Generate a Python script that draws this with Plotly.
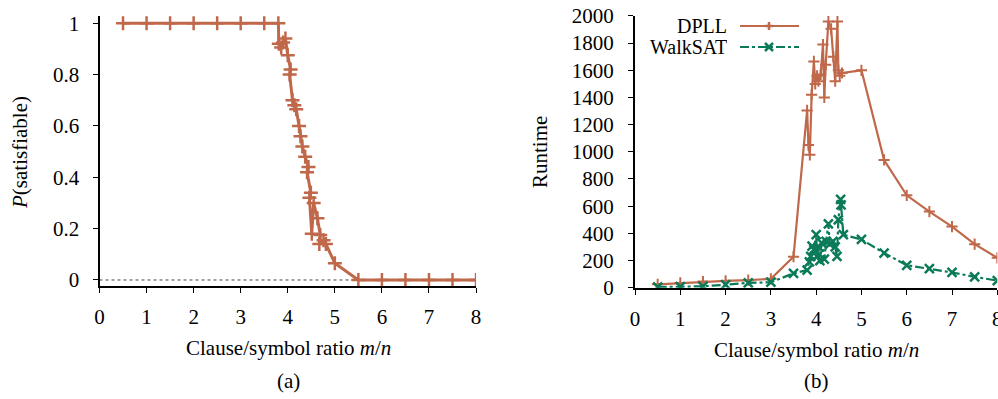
import plotly.graph_objects as go

# ---------------- data ----------------
ratio_a = [0.5, 1.0, 1.5, 2.0, 2.5, 3.0, 3.5, 3.8, 3.81, 3.86, 3.9, 3.95, 4.0, 4.06, 4.04,
           4.1, 4.14, 4.18, 4.24, 4.27, 4.31, 4.37, 4.44, 4.41, 4.49, 4.46, 4.51, 4.55,
           4.63, 4.69, 4.67, 4.76, 4.81, 5.0, 5.5, 6.0, 6.5, 7.0, 7.5, 8.0]
p_sat = [1.0, 1.0, 1.0, 1.0, 1.0, 1.0, 1.0, 1.0, 0.92, 0.905, 0.925, 0.94, 0.875, 0.82, 0.80,
         0.70, 0.68, 0.665, 0.60, 0.56, 0.52, 0.48, 0.44, 0.42, 0.34, 0.32, 0.18, 0.30,
         0.24, 0.175, 0.14, 0.155, 0.14, 0.065, 0.0, 0.0, 0.0, 0.0, 0.0, 0.0]

ratio_dpll = [0.5, 1.0, 1.5, 2.0, 2.5, 3.0, 3.5, 3.8, 3.83, 3.86, 3.9, 3.95, 3.98, 4.02, 4.05,
              4.1, 4.15, 4.18, 4.21, 4.27, 4.33, 4.38, 4.42, 4.47, 4.49, 4.52, 4.57,
              5.0, 5.5, 6.0, 6.5, 7.0, 7.5, 8.0]
runtime_dpll = [25, 35, 45, 50, 55, 65, 228, 1305, 1050, 978, 1420, 1665, 1500, 1560, 1520,
                1570, 1790, 1400, 1640, 1960, 1905, 1700, 1520, 1960, 1600, 1560, 1580,
                1600, 940, 680, 560, 450, 320, 220]

ratio_walksat = [0.5, 1.0, 1.5, 2.0, 2.5, 3.0, 3.5, 3.8, 3.85, 3.88, 3.91, 3.95, 4.0, 4.02,
                 4.05, 4.08, 4.12, 4.18, 4.22, 4.27, 4.3, 4.37, 4.42, 4.46, 4.49, 4.54,
                 4.55, 4.6, 5.0, 5.5, 6.0, 6.5, 7.0, 7.5, 8.0]
runtime_walksat = [5, 8, 10, 22, 35, 40, 105, 130, 190, 230, 305, 280, 390, 230,
                   300, 200, 330, 210, 340, 470, 320, 340, 300, 230, 500, 650,
                   610, 390, 355, 255, 165, 140, 112, 80, 52]

x_ticks = [0, 1, 2, 3, 4, 5, 6, 7, 8]
y_ticks_a = [0, 0.2, 0.4, 0.6, 0.8, 1]
y_tick_text_a = ["0", "0.2", "0.4", "0.6", "0.8", "1"]
y_ticks_b = [0, 200, 400, 600, 800, 1000, 1200, 1400, 1600, 1800, 2000]

# ---------------- style ----------------
DPLL_COLOR = "#c0684a"
WALK_COLOR = "#0a7a58"
FONT = "Liberation Serif"
FS = 21
W, H = 998, 399

fig = go.Figure()

fig.add_trace(go.Scatter(
    x=ratio_a, y=p_sat, mode="lines+markers", xaxis="x", yaxis="y", showlegend=False,
    line=dict(color=DPLL_COLOR, width=3),
    marker=dict(symbol="cross-thin", size=10, color=DPLL_COLOR,
                line=dict(color=DPLL_COLOR, width=2.5))))

fig.add_trace(go.Scatter(
    x=ratio_dpll, y=runtime_dpll, mode="lines+markers", xaxis="x2", yaxis="y2",
    name="DPLL", showlegend=False,
    line=dict(color=DPLL_COLOR, width=2.2),
    marker=dict(symbol="cross-thin", size=8, color=DPLL_COLOR,
                line=dict(color=DPLL_COLOR, width=2))))

fig.add_trace(go.Scatter(
    x=ratio_walksat, y=runtime_walksat, mode="lines+markers", xaxis="x2", yaxis="y2",
    name="WalkSAT", showlegend=False,
    line=dict(color=WALK_COLOR, width=2.2, dash="dashdot"),
    marker=dict(symbol="x-thin", size=9, color=WALK_COLOR,
                line=dict(color=WALK_COLOR, width=2.5))))

axis_common = dict(
    showline=True, linewidth=2, linecolor="black", showgrid=False, zeroline=False,
    ticks="outside", ticklen=5, tickwidth=1, tickcolor="black", automargin=False,
    ticklabeloverflow="allow",
    tickfont=dict(family=FONT, size=FS, color="black"),
)

fig.update_layout(
    template="none",
    width=W, height=H,
    margin=dict(l=0, r=0, t=0, b=0, pad=0),
    paper_bgcolor="white", plot_bgcolor="white",
    font=dict(family=FONT, size=FS, color="black"),
    xaxis=dict(domain=[0.0997, 0.477], range=[0, 8], tickvals=x_ticks, anchor="y",
               ticklabelstandoff=6, **axis_common),
    yaxis=dict(domain=[0.2832, 0.9599], range=[-0.0234, 1.028], tickvals=y_ticks_a,
               ticktext=y_tick_text_a, anchor="x", ticklabelstandoff=9, **axis_common),
    xaxis2=dict(domain=[0.6363, 0.9993], range=[0, 8], tickvals=x_ticks, anchor="y2",
                ticklabelstandoff=6, **axis_common),
    yaxis2=dict(domain=[0.279, 0.96], range=[0, 2000], tickvals=y_ticks_b, anchor="x2",
                ticklabelstandoff=10, **axis_common),
)

# dotted zero reference in panel (a)
fig.add_shape(type="line", xref="x", yref="y", x0=0, x1=8, y0=0, y1=0,
              line=dict(color="#444", width=1, dash="dot"), layer="below")

def px(x):
    return x / W

def py(y):
    return 1 - y / H

ann = [
    dict(text="<i>P</i>(satisfiable)", x=px(20), y=py(153), textangle=-90),
    dict(text="Runtime", x=px(540), y=py(152), textangle=-90),
    dict(text="Clause/symbol ratio <i>m</i>/<i>n</i>", x=px(288), y=py(348)),
    dict(text="Clause/symbol ratio <i>m</i>/<i>n</i>", x=px(816), y=py(350)),
    dict(text="(a)", x=px(288), y=py(381)),
    dict(text="(b)", x=px(816), y=py(381)),
]
for a in ann:
    fig.add_annotation(xref="paper", yref="paper", showarrow=False,
                       xanchor="center", yanchor="middle",
                       font=dict(family=FONT, size=FS, color="black"), **a)

# manual legend (text on the left of the key, as in the original)
legend_rows = [("DPLL", DPLL_COLOR, "solid", "cross", 26),
               ("WalkSAT", WALK_COLOR, "dashdot", "x", 47)]
for label, color, dash, sym, yy in legend_rows:
    fig.add_annotation(xref="paper", yref="paper", showarrow=False, text=label,
                       x=px(728), y=py(yy), xanchor="right", yanchor="middle",
                       height=18, borderpad=0,
                       font=dict(family=FONT, size=FS - 1, color="black"))
    fig.add_shape(type="line", xref="paper", yref="paper",
                  x0=px(740), x1=px(799), y0=py(yy), y1=py(yy),
                  line=dict(color=color, width=2.2, dash=dash))
    cx, cy, r = 769, yy, 4
    if sym == "cross":
        segs = [((cx - r, cy), (cx + r, cy)), ((cx, cy - r), (cx, cy + r))]
    else:
        segs = [((cx - r, cy - r), (cx + r, cy + r)), ((cx - r, cy + r), (cx + r, cy - r))]
    for (x0, y0), (x1, y1) in segs:
        fig.add_shape(type="line", xref="paper", yref="paper",
                      x0=px(x0), x1=px(x1), y0=py(y0), y1=py(y1),
                      line=dict(color=color, width=2.5))

fig.write_html("out.html", config={"displayModeBar": False},
               post_script="document.body.style.margin='0px';document.body.style.overflow='hidden';")
